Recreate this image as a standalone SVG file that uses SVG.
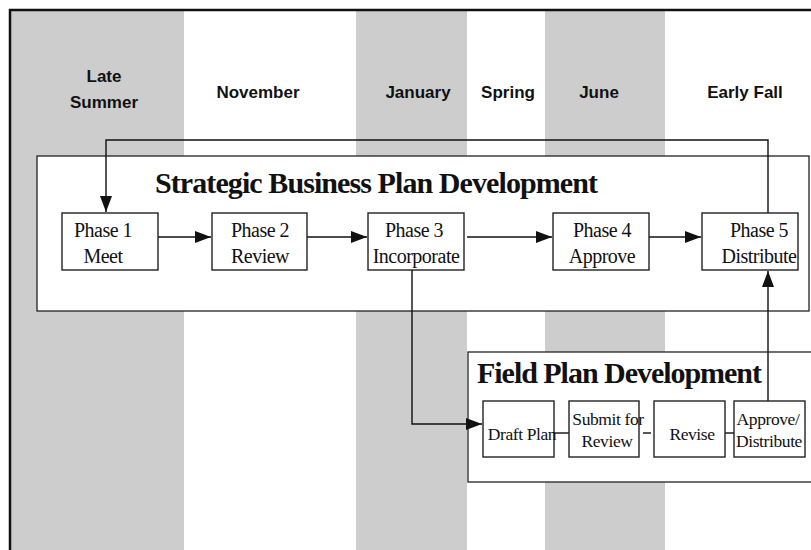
<svg xmlns="http://www.w3.org/2000/svg" width="811" height="550" viewBox="0 0 811 550">
  <style>
    .band { fill: #cdcdcd; }
    .frame { fill: none; stroke: #111; stroke-width: 2.5; }
    .panel { fill: #fff; stroke: #222; stroke-width: 1.3; }
    .box { fill: #fff; stroke: #222; stroke-width: 1.4; }
    .wire { fill: none; stroke: #111; stroke-width: 1.4; }
    .season { font-family: "Liberation Sans", Arial, sans-serif; font-weight: bold; font-size: 17px; fill: #111; text-anchor: middle; }
    .title { font-family: "Liberation Serif", "Times New Roman", serif; font-weight: bold; font-size: 30px; fill: #111; }
    .phase { font-family: "Liberation Serif", "Times New Roman", serif; font-size: 20px; letter-spacing: -0.5px; fill: #111; text-anchor: middle; }
    .step { font-family: "Liberation Serif", "Times New Roman", serif; font-size: 17.5px; letter-spacing: -0.4px; fill: #111; text-anchor: middle; }
  </style>
  <defs>
    <marker id="arrow" viewBox="0 0 16 12" refX="16" refY="6" markerWidth="16" markerHeight="12" markerUnits="userSpaceOnUse" orient="auto">
      <path d="M0,0 L16,6 L0,12 Z" fill="#111"/>
    </marker>
  </defs>

  <rect width="811" height="550" fill="#fff"/>

  <!-- timeline columns -->
  <g id="columns">
    <rect class="band" x="11" y="11" width="173" height="539"/>
    <rect class="band" x="356" y="11" width="111" height="539"/>
    <rect class="band" x="545" y="11" width="120" height="539"/>
    <path class="frame" d="M10,550 V10 H811"/>
  </g>

  <!-- season headings -->
  <g id="seasons">
    <text class="season" x="104" y="82">Late</text>
    <text class="season" x="104" y="108">Summer</text>
    <text class="season" x="258" y="98">November</text>
    <text class="season" x="418" y="98">January</text>
    <text class="season" x="508" y="98">Spring</text>
    <text class="season" x="599" y="98">June</text>
    <text class="season" x="745" y="98">Early Fall</text>
  </g>

  <!-- strategic plan panel -->
  <g id="strategic-panel">
    <rect class="panel" x="37" y="156" width="772" height="155"/>
    <text class="title" x="155" y="193" textLength="443" lengthAdjust="spacing">Strategic Business Plan Development</text>
  </g>

  <!-- field plan panel -->
  <g id="field-panel">
    <rect class="panel" x="468" y="352" width="350" height="130"/>
    <text class="title" x="477" y="383" textLength="285" lengthAdjust="spacing">Field Plan Development</text>
  </g>

  <!-- connectors -->
  <g id="connectors">
    <path class="wire" d="M768,213 V140 H106 V212" marker-end="url(#arrow)"/>
    <path class="wire" d="M154,237 H211" marker-end="url(#arrow)"/>
    <path class="wire" d="M307,237 H367" marker-end="url(#arrow)"/>
    <path class="wire" d="M467,237 H552" marker-end="url(#arrow)"/>
    <path class="wire" d="M649,237 H701" marker-end="url(#arrow)"/>
    <path class="wire" d="M412,270 V424 H482" marker-end="url(#arrow)"/>
    <path class="wire" d="M768,401 V271" marker-end="url(#arrow)"/>
    <path class="wire" d="M554,433 H569"/>
    <path class="wire" d="M643,433 H651"/>
    <path class="wire" d="M725,433 H734"/>
  </g>

  <!-- phases -->
  <g id="phase1">
    <rect class="box" x="62" y="213" width="96" height="57"/>
    <text class="phase" x="103" y="237">Phase 1</text>
    <text class="phase" x="103" y="263">Meet</text>
  </g>
  <g id="phase2">
    <rect class="box" x="212" y="213" width="95" height="57"/>
    <text class="phase" x="260" y="237">Phase 2</text>
    <text class="phase" x="260" y="263">Review</text>
  </g>
  <g id="phase3">
    <rect class="box" x="368" y="213" width="96" height="57"/>
    <text class="phase" x="414" y="237">Phase 3</text>
    <text class="phase" x="416" y="263">Incorporate</text>
  </g>
  <g id="phase4">
    <rect class="box" x="553" y="213" width="96" height="57"/>
    <text class="phase" x="602" y="237">Phase 4</text>
    <text class="phase" x="602" y="263">Approve</text>
  </g>
  <g id="phase5">
    <rect class="box" x="702" y="213" width="96" height="57"/>
    <text class="phase" x="759" y="237">Phase 5</text>
    <text class="phase" x="759" y="263">Distribute</text>
  </g>

  <!-- field steps -->
  <g id="draft-plan">
    <rect class="box" x="483" y="401" width="71" height="56"/>
    <text class="step" x="522" y="440">Draft Plan</text>
  </g>
  <g id="submit-review">
    <rect class="box" x="569" y="401" width="70" height="56"/>
    <text class="step" x="608" y="425">Submit for</text>
    <text class="step" x="607" y="447">Review</text>
  </g>
  <g id="revise">
    <rect class="box" x="654" y="401" width="71" height="56"/>
    <text class="step" x="692" y="440">Revise</text>
  </g>
  <g id="approve-distribute">
    <rect class="box" x="734" y="401" width="71" height="56"/>
    <text class="step" x="768" y="425">Approve/</text>
    <text class="step" x="769" y="447">Distribute</text>
  </g>
</svg>
